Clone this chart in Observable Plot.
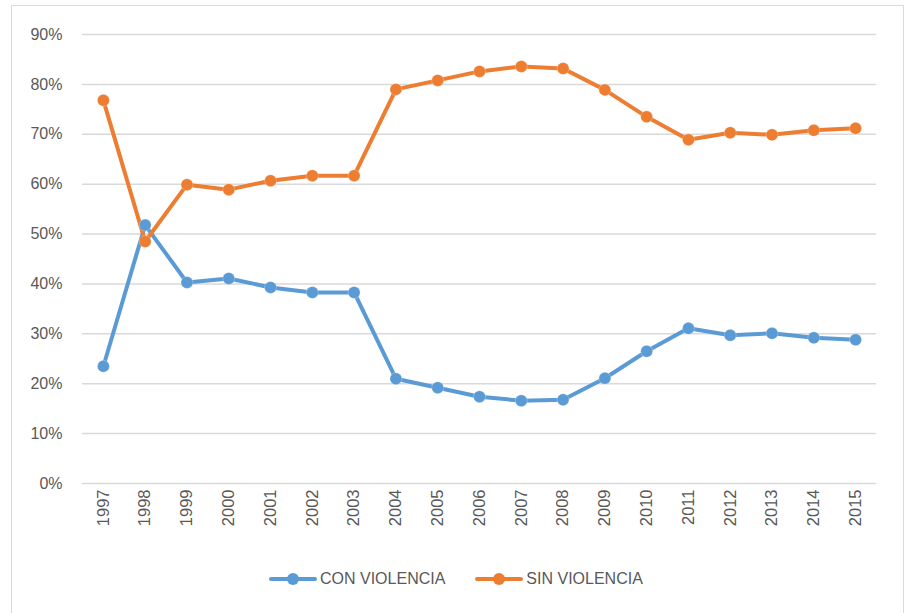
<!DOCTYPE html>
<html>
<head>
<meta charset="utf-8">
<script src="https://cdn.jsdelivr.net/npm/d3@7"></script>
<script src="https://cdn.jsdelivr.net/npm/@observablehq/plot@0.6"></script>
<style>
  html, body { margin: 0; padding: 0; background: #fff; }
  body { width: 911px; height: 613px; position: relative; overflow: hidden; font-family: "Liberation Sans", Arial, sans-serif; }
  #frame { position: absolute; left: 11px; top: 5px; width: 893px; height: 640px; border: 1px solid #d9d9d9; box-sizing: border-box; }
  #chart { position: absolute; left: 0; top: 0; }
  #legend { position: absolute; left: 269px; top: 569px; display: flex; align-items: center; font-size: 16px; color: #595959; white-space: nowrap; }
  .item { display: flex; align-items: center; }
  .sw { position: relative; width: 48px; height: 20px; margin-right: 3px; }
  .sw .ln { position: absolute; left: 0; right: 0; top: 8px; height: 4px; border-radius: 2px; }
  .sw .dot { position: absolute; left: 18px; top: 4px; width: 12px; height: 12px; border-radius: 50%; }
</style>
</head>
<body>
<div id="frame"></div>
<div id="chart"></div>
<div id="legend"></div>
<script>
const years = ["1997","1998","1999","2000","2001","2002","2003","2004","2005","2006","2007","2008","2009","2010","2011","2012","2013","2014","2015"];
const conViolencia = [23.5, 51.8, 40.3, 41.1, 39.3, 38.3, 38.3, 21.0, 19.2, 17.4, 16.6, 16.8, 21.1, 26.5, 31.1, 29.7, 30.1, 29.2, 28.8];
const sinViolencia = [76.8, 48.5, 59.9, 58.9, 60.7, 61.7, 61.7, 79.0, 80.8, 82.6, 83.6, 83.2, 78.9, 73.5, 68.9, 70.3, 69.9, 70.8, 71.2];
const seriesNames = ["CON VIOLENCIA", "SIN VIOLENCIA"];
const seriesColors = ["#5B9BD5", "#ED7D31"];
const yTicks = [0, 10, 20, 30, 40, 50, 60, 70, 80, 90];

const data = [];
[conViolencia, sinViolencia].forEach((vals, s) => {
  vals.forEach((v, i) => data.push({ year: years[i], value: v, serie: seriesNames[s] }));
});

const chart = Plot.plot({
  width: 911,
  height: 540,
  marginLeft: 82,
  marginRight: 35,
  marginTop: 34,
  marginBottom: 57,
  style: { fontFamily: "'Liberation Sans', Arial, sans-serif", fontSize: "16px", color: "#595959", background: "transparent" },
  x: { type: "point", domain: years, padding: 0.5, round: false, label: null },
  y: { domain: [0, 90], label: null },
  color: { domain: seriesNames, range: seriesColors },
  marks: [
    Plot.ruleY(yTicks, { stroke: "#d9d9d9", strokeWidth: 1.5 }),
    Plot.axisY({ ticks: yTicks, tickSize: 0, tickPadding: 20, tickFormat: d => d + "%", fill: "#595959" }),
    Plot.axisX({ tickSize: 0, tickPadding: 6, tickRotate: -90, fill: "#595959", fontSize: 16.5 }),
    Plot.line(data, { x: "year", y: "value", stroke: "serie", strokeWidth: 4, strokeLinejoin: "round" }),
    Plot.dot(data, { x: "year", y: "value", fill: "serie", r: 6, stroke: "white", strokeOpacity: 0.25, strokeWidth: 1 })
  ]
});
document.getElementById("chart").appendChild(chart);

const legend = document.getElementById("legend");
seriesNames.forEach((name, i) => {
  const item = document.createElement("div");
  item.className = "item";
  if (i > 0) item.style.marginLeft = "30px";
  item.innerHTML = `<div class="sw"><div class="ln" style="background:${seriesColors[i]}"></div><div class="dot" style="background:${seriesColors[i]}"></div></div><span>${name}</span>`;
  legend.appendChild(item);
});
</script>
</body>
</html>
